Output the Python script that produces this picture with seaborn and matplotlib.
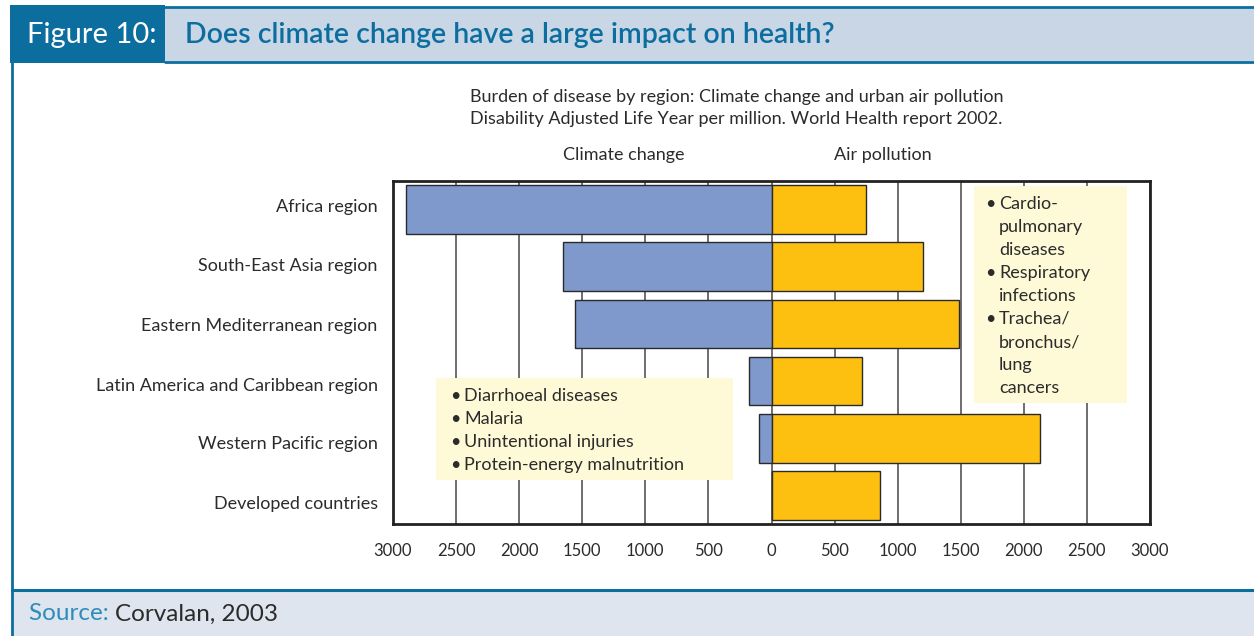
import matplotlib
matplotlib.use('Agg')
import matplotlib.pyplot as plt
import seaborn as sns
import pandas as pd
from matplotlib.patches import Rectangle
from matplotlib.lines import Line2D
from matplotlib.ticker import FuncFormatter

regions = ['Africa region', 'South-East Asia region', 'Eastern Mediterranean region',
           'Latin America and Caribbean region', 'Western Pacific region', 'Developed countries']
climate_change = [2900, 1650, 1560, 175, 100, 0]
air_pollution = [750, 1200, 1490, 720, 2130, 860]

climate_notes = ['Diarrhoeal diseases', 'Malaria', 'Unintentional injuries',
                 'Protein-energy malnutrition']
air_notes = [('\u2022', 'Cardio-'), ('', 'pulmonary'), ('', 'diseases'),
             ('\u2022', 'Respiratory'), ('', 'infections'),
             ('\u2022', 'Trachea/'), ('', 'bronchus/'), ('', 'lung'), ('', 'cancers')]

df = pd.DataFrame({'region': regions, 'climate': climate_change, 'air': air_pollution})
df['climate_left'] = -df['climate']

W, H = 1254, 636
DARK_BLUE = '#0B6E9E'
TEXT = '#2b2b2b'
NOTE_BG = '#FEF9D6'
FS = 13

sns.set_theme(style='white')
plt.rcParams['font.family'] = ['Lato', 'DejaVu Sans']

fig = plt.figure(figsize=(W / 100, H / 100), dpi=100)


def ff(px, py):
    return px / W, 1 - py / H


# header
fig.add_artist(Rectangle(ff(165, 61), (W - 165) / W, 53 / H, transform=fig.transFigure,
                         facecolor='#C8D6E5', edgecolor='none'))
fig.add_artist(Line2D([165 / W, 1], [1 - 6.5 / H] * 2, transform=fig.transFigure,
                      color=DARK_BLUE, lw=2))
fig.add_artist(Line2D([165 / W, 1], [1 - 61.5 / H] * 2, transform=fig.transFigure,
                      color=DARK_BLUE, lw=2))
fig.add_artist(Rectangle(ff(10, 62.5), 155 / W, 57.5 / H, transform=fig.transFigure,
                         facecolor=DARK_BLUE, edgecolor='none'))
fig.text(*ff(27, 35), 'Figure 10:', color='white', fontsize=21, va='center', ha='left')
fig.text(*ff(185, 35), 'Does climate change have a large impact on health?',
         color=DARK_BLUE, fontsize=20.5, fontweight='semibold', va='center', ha='left')

# left rule
fig.add_artist(Line2D([12 / W] * 2, [0, 1 - 62 / H], transform=fig.transFigure,
                      color=DARK_BLUE, lw=2))

# footer
fig.add_artist(Rectangle((12 / W, 0), 1, 1 - 590 / H, transform=fig.transFigure,
                         facecolor='#DFE5EE', edgecolor='none'))
fig.add_artist(Line2D([12 / W, 1], [1 - 590 / H] * 2, transform=fig.transFigure,
                      color=DARK_BLUE, lw=2.2))
src = fig.text(*ff(29, 614), 'Source: ', color='#2D8CBA', fontsize=17.5, va='center', ha='left')
fig.canvas.draw()
bb = src.get_window_extent()
fig.text(bb.x1 / W, 1 - 614 / H, 'Corvalan, 2003', color=TEXT, fontsize=17.5,
         va='center', ha='left')

# subtitle and column headers
fig.text(*ff(470, 97), 'Burden of disease by region: Climate change and urban air pollution',
         color=TEXT, fontsize=FS, va='center', ha='left')
fig.text(*ff(470, 119), 'Disability Adjusted Life Year per million. World Health report 2002.',
         color=TEXT, fontsize=FS, va='center', ha='left')
fig.text(*ff(624, 155), 'Climate change', color=TEXT, fontsize=FS, va='center', ha='center')
fig.text(*ff(883, 155), 'Air pollution', color=TEXT, fontsize=FS, va='center', ha='center')

# chart
AX0, AY0, AX1, AY1 = 393, 181, 1150, 524
ax = fig.add_axes([AX0 / W, 1 - AY1 / H, (AX1 - AX0) / W, (AY1 - AY0) / H])

sns.barplot(data=df, x='climate_left', y='region', color='#7F99CC', saturation=1,
            edgecolor='#2a2a2a', linewidth=1, width=0.85, orient='h', ax=ax, zorder=3)
sns.barplot(data=df, x='air', y='region', color='#FDC010', saturation=1,
            edgecolor='#2a2a2a', linewidth=1, width=0.85, orient='h', ax=ax, zorder=3)

n = len(regions)
ax.set_xlim(-3000, 3000)
ax.set_ylim(n - 0.5, -0.5)
ax.set_xticks(range(-3000, 3001, 500))
ax.xaxis.set_major_formatter(FuncFormatter(lambda v, p: f'{abs(int(v))}'))

# region labels sit slightly more spread out than the bars in the original
row_h = (AY1 - AY0) / n
label_px = [205, 264, 324, 384, 443, 502]
ax.set_yticks([(p - AY0) / row_h - 0.5 for p in label_px])
ax.set_yticklabels(regions)

ax.grid(axis='x', color='#555555', lw=1.2)
ax.set_axisbelow(True)
ax.set_xlabel('')
ax.set_ylabel('')
ax.tick_params(axis='x', length=0, pad=14, labelsize=12, labelcolor=TEXT)
ax.tick_params(axis='y', length=0, pad=11, labelsize=FS, labelcolor=TEXT)
for s in ax.spines.values():
    s.set_visible(True)
    s.set_color('#222222')
    s.set_linewidth(2)


def af(px, py):
    return (px - AX0) / (AX1 - AX0), (AY1 - py) / (AY1 - AY0)


# note boxes
x0, y0 = af(436, 480)
x1, y1 = af(733, 378)
ax.add_patch(Rectangle((x0, y0), x1 - x0, y1 - y0, transform=ax.transAxes,
                       facecolor=NOTE_BG, edgecolor='none', zorder=2))
for i, note in enumerate(climate_notes):
    py = 396 + i * 23
    ax.text(*af(455, py), '\u2022', transform=ax.transAxes, color=TEXT,
            fontsize=FS, va='center', ha='center', zorder=4)
    ax.text(*af(464, py), note, transform=ax.transAxes, color=TEXT,
            fontsize=FS, va='center', ha='left', zorder=4)

x0, y0 = af(974, 403)
x1, y1 = af(1127, 186)
ax.add_patch(Rectangle((x0, y0), x1 - x0, y1 - y0, transform=ax.transAxes,
                       facecolor=NOTE_BG, edgecolor='none', zorder=2))
for i, (bullet, note) in enumerate(air_notes):
    py = 204 + i * 23
    if bullet:
        ax.text(*af(990, py), bullet, transform=ax.transAxes, color=TEXT,
                fontsize=FS, va='center', ha='center', zorder=4)
    ax.text(*af(999, py), note, transform=ax.transAxes, color=TEXT,
            fontsize=FS, va='center', ha='left', zorder=4)

fig.savefig('out.png', dpi=100)
